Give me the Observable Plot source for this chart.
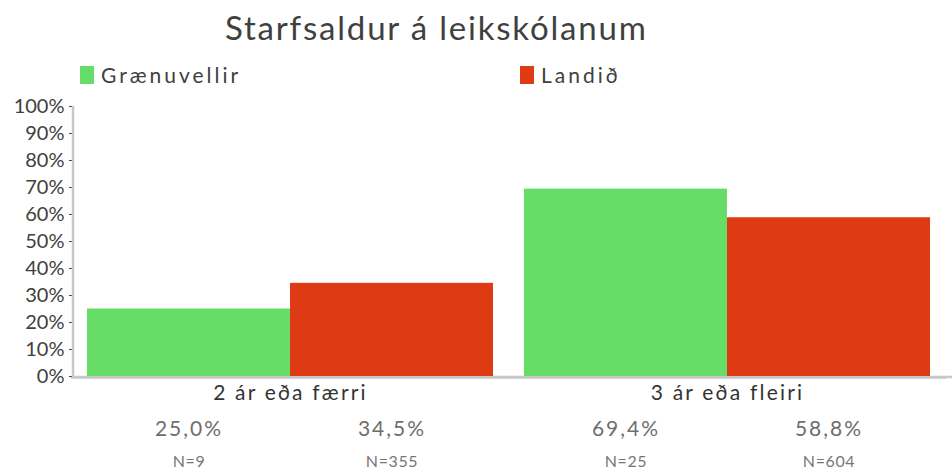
<!DOCTYPE html>
<html>
<head>
<meta charset="utf-8">
<script src="https://cdn.jsdelivr.net/npm/d3@7"></script>
<script src="https://cdn.jsdelivr.net/npm/@observablehq/plot@0.6"></script>
<style>
  html, body { margin: 0; padding: 0; background: #fff; }
  body { width: 952px; height: 468px; position: relative; overflow: hidden; font-family: Lato, "Noto Sans", sans-serif; }
  #title { position: absolute; left: 225px; top: 7px; font-size: 33px; color: #404040; letter-spacing: 1.8px; white-space: nowrap; }
  .leg { position: absolute; top: 62px; display: flex; align-items: center; font-size: 21px; color: #404040; letter-spacing: 3px; white-space: nowrap; }
  .sw { width: 14px; height: 18px; margin-right: 7px; }
  #chart { position: absolute; left: 0; top: 92px; }
</style>
</head>
<body>
<div id="title">Starfsaldur á leikskólanum</div>
<div id="legend"></div>
<div id="chart"></div>
<script>
const categories = ["2 ár eða færri", "3 ár eða fleiri"];
const series = ["Grænuvellir", "Landið"];
const colors = ["#66dd66", "#de3a13"];
const grænuvellir = [25.0, 69.4];
const landid = [34.5, 58.8];
const nGrænuvellir = [9, 25];
const nLandid = [355, 604];
const yTicks = [0, 10, 20, 30, 40, 50, 60, 70, 80, 90, 100];

const data = [];
categories.forEach((c, i) => {
  data.push({category: c, series: series[0], value: grænuvellir[i], n: nGrænuvellir[i]});
  data.push({category: c, series: series[1], value: landid[i], n: nLandid[i]});
});

// legend
const legendLeft = [80, 520];
series.forEach((s, i) => {
  const d = document.createElement("div");
  d.className = "leg";
  d.style.left = legendLeft[i] + "px";
  d.innerHTML = `<div class="sw" style="background:${colors[i]}"></div><span>${s}</span>`;
  document.getElementById("legend").appendChild(d);
});

const fmt = v => v.toFixed(1).replace(".", ",") + "%";

const plot = Plot.plot({
  width: 952,
  height: 376,
  marginLeft: 73,
  marginRight: 8,
  marginTop: 14,
  marginBottom: 92,
  style: {fontFamily: "Lato, 'Noto Sans', sans-serif", background: "#fff", overflow: "visible"},
  fx: {domain: categories, paddingInner: 0.0114, paddingOuter: 0, axis: null, label: null},
  x: {domain: series, paddingInner: 0, paddingOuter: 0.064, axis: null, label: null},
  y: {domain: [0, 100], label: null},
  color: {domain: series, range: colors},
  marks: [
    Plot.ruleY([0], {stroke: "#c8c8c8", strokeWidth: 2.5, dy: 1, insetLeft: -3, insetRight: -3}),
    Plot.barY(data, {fx: "category", x: "series", y: "value", fill: "series"}),
    Plot.axisY(yTicks, {anchor: "left", tickFormat: d => d + "%", label: null, tickSize: 5, tickPadding: 5, fontSize: 20, color: "#404040"}),
    Plot.text(categories, {fx: d => d, text: d => d, frameAnchor: "bottom", dy: 17, lineAnchor: "middle", fontSize: 21, fill: "#333"}),
    Plot.text(data, {fx: "category", x: "series", text: d => fmt(d.value), frameAnchor: "bottom", dy: 53, lineAnchor: "middle", fontSize: 21, fill: "#6e6e6e"}),
    Plot.text(data, {fx: "category", x: "series", text: d => "N=" + d.n, frameAnchor: "bottom", dy: 85, lineAnchor: "middle", fontSize: 16, fill: "#777"})
  ]
});
document.getElementById("chart").appendChild(plot);

// axis lines drawn from the plot's own y scale
const y = plot.scale("y");
const svg = d3.select(plot);
const x0 = 73;
svg.append("line")
  .attr("x1", x0).attr("x2", x0)
  .attr("y1", y.apply(100)).attr("y2", y.apply(0) + 2)
  .attr("stroke", "#c8c8c8").attr("stroke-width", 2.5);
svg.append("line")
  .attr("x1", x0).attr("x2", 952)
  .attr("y1", y.apply(0) + 1).attr("y2", y.apply(0) + 1)
  .attr("stroke", "#c8c8c8").attr("stroke-width", 2.5)
  .lower();

// letter spacing like the reference typeface
const valueLabels = data.map(d => fmt(d.value));
svg.selectAll("text").each(function() {
  const t = this.textContent;
  if (categories.includes(t)) this.style.letterSpacing = "2.2px";
  else if (valueLabels.includes(t)) this.style.letterSpacing = "2px";
  else if (t.startsWith("N=")) this.style.letterSpacing = "0.6px";
});
</script>
</body>
</html>
